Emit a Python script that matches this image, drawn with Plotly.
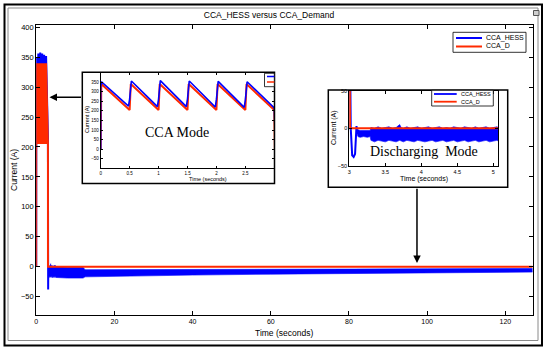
import plotly.graph_objects as go

# ---------------- data ----------------
series_names = ["CCA_HESS", "CCA_D"]

# CCA_HESS current: sawtooth during CCA mode, then discharge transient
hess_t = [0.0, 0.0, 0.02, 0.48, 0.50, 0.53, 0.98, 1.00, 1.03, 1.48, 1.50, 1.53,
          1.98, 2.00, 2.03, 2.48, 2.50, 2.53, 3.00, 3.02, 3.04, 3.06, 3.08, 3.09, 3.10]
hess_v = [0, 330, 350, 225, 262, 356, 222, 262, 358, 222, 262, 356,
          220, 260, 354, 218, 258, 352, 215, 0, -36, -38, -34, -8, 3]

# CCA_D (demand) current
dem_t = [0.0, 0.01, 0.50, 0.52, 1.00, 1.02, 1.50, 1.52, 2.00, 2.02, 2.50, 2.52,
         3.00, 3.01, 127.0]
dem_v = [0, 340, 205, 340, 205, 340, 205, 340, 205, 340, 205, 340,
         205, 0, 0]

# CCA_HESS ripple band during discharging mode (upper / lower envelope)
band_t = [3.10, 3.12, 3.15, 3.20, 3.25, 3.29, 3.30, 3.35, 3.40, 3.45, 3.50, 3.55,
          3.60, 3.65, 3.70, 3.72, 3.75, 3.80, 3.85, 3.90, 3.95, 4.00, 4.05, 4.10,
          4.15, 4.20, 4.25, 4.30, 4.35, 4.40, 4.45, 4.50, 4.55, 4.60, 4.65, 4.70,
          4.75, 4.80, 4.85, 4.90, 4.95, 5.00, 5.05, 5.10, 8.0, 12.0, 12.5, 20.0,
          40.0, 60.0, 80.0, 100.0, 127.0]
band_hi = [3, -2, -3, -3, -2, -3, 1, 0, 2, 0, 1, 2,
           0, 1, 5, 1, 0, 2, 0, 1, 2, 0, 1, 2,
           0, 1, 2, 0, 1, 0, 2, 1, 0, 2, 1, 0,
           2, 0, 1, 2, 0, 1, 2, 0, -1, -1, -5, -5,
           -4.5, -4, -4, -3.5, -3]
band_lo = [-5, -11, -12, -11, -12, -11, -16, -18, -16, -17, -18, -16,
           -17, -18, -16, -17, -18, -16, -17, -18, -16, -17, -18, -17,
           -16, -18, -17, -16, -18, -17, -16, -18, -17, -16, -18, -17,
           -16, -18, -17, -16, -18, -17, -16, -18, -19, -19, -17, -16,
           -14, -12.5, -11.5, -10.5, -9]

# axis ticks and titles
main_xticks = [0, 20, 40, 60, 80, 100, 120]
main_yticks = [-50, 0, 50, 100, 150, 200, 250, 300, 350, 400]
in1_xticks = [0, 0.5, 1, 1.5, 2, 2.5]
in1_yticks = [-50, 0, 50, 100, 150, 200, 250, 300, 350]
in2_xticks = [3, 3.5, 4, 4.5, 5]
in2_yticks = [-50, 0, 50]
x_title = "Time (seconds)"
y_title = "Current (A)"

# ---------------- figure ----------------
W, H = 550, 351
BLUE = "#0000ff"
RED = "#ff2a00"
FONT = "Liberation Sans, Arial, sans-serif"
SERIF = "Liberation Serif, Times New Roman, serif"
colors = [BLUE, RED]


def px(x):
    return x / W


def py(y):
    return 1 - y / H


fig = go.Figure()

subplots = [("x", "y"), ("x2", "y2"), ("x3", "y3")]
for i, (xa, ya) in enumerate(subplots):
    # ripple band
    fig.add_trace(go.Scatter(x=band_t, y=band_lo, xaxis=xa, yaxis=ya, mode="lines",
                             line=dict(color=BLUE, width=0.6), hoverinfo="skip"))
    fig.add_trace(go.Scatter(x=band_t, y=band_hi, xaxis=xa, yaxis=ya, mode="lines",
                             fill="tonexty", fillcolor=BLUE,
                             line=dict(color=BLUE, width=0.6), hoverinfo="skip"))
    if i == 1:
        # inset 1: demand below, HESS on top
        fig.add_trace(go.Scatter(x=dem_t, y=dem_v, xaxis=xa, yaxis=ya, mode="lines",
                                 name=series_names[1], line=dict(color=RED, width=2)))
        fig.add_trace(go.Scatter(x=hess_t, y=hess_v, xaxis=xa, yaxis=ya, mode="lines",
                                 name=series_names[0], line=dict(color=BLUE, width=1.6)))
    else:
        fig.add_trace(go.Scatter(x=hess_t, y=hess_v, xaxis=xa, yaxis=ya, mode="lines",
                                 name=series_names[0], line=dict(color=BLUE, width=2)))
        fig.add_trace(go.Scatter(x=dem_t, y=dem_v, xaxis=xa, yaxis=ya, mode="lines",
                                 name=series_names[1], line=dict(color=RED, width=2)))

axis_common = dict(showline=True, linecolor="black", linewidth=1, mirror="ticks",
                   ticks="inside", tickcolor="black", showgrid=False, zeroline=False,
                   color="black", automargin=False)

fig.update_layout(
    width=W, height=H, autosize=False,
    margin=dict(l=0, r=0, t=0, b=0, pad=0),
    paper_bgcolor="white", plot_bgcolor="white",
    font=dict(family=FONT, color="black"),
    showlegend=False,
    title=dict(text="CCA_HESS versus CCA_Demand", x=px(269), y=py(15),
               xanchor="center", yanchor="middle",
               font=dict(size=8.5, family=FONT, color="black")),
    xaxis=dict(domain=[px(36.2), px(532.7)], range=[0, 127], tickvals=main_xticks,
               ticklen=4, tickfont=dict(size=7), **axis_common),
    yaxis=dict(domain=[py(315), py(25)], range=[-80.7, 403.8], tickvals=main_yticks,
               ticklen=4, tickfont=dict(size=7.5), **axis_common),
    xaxis2=dict(domain=[px(100.7), px(274.3)], range=[0, 3], tickvals=in1_xticks,
                anchor="y2", ticklen=2, tickfont=dict(size=4.5), **axis_common),
    yaxis2=dict(domain=[py(168.3), py(72.6)], range=[-100, 400], tickvals=in1_yticks,
                anchor="x2", ticklen=2, tickfont=dict(size=4.5), **axis_common),
    xaxis3=dict(domain=[px(349.3), px(498.3)], range=[3, 5.07], tickvals=in2_xticks,
                anchor="y3", ticklen=3, tickfont=dict(size=5.5), **axis_common),
    yaxis3=dict(domain=[py(166), py(90.6)], range=[-50, 50], tickvals=in2_yticks,
                anchor="x3", ticklen=3, tickfont=dict(size=5.5), **axis_common),
)


def legend_box(x0, x1, y0, y1, line_x0, line_x1, rows_y, font_size, lw):
    """Legend frame, sample lines and labels (MATLAB style legend)."""
    shp = [dict(type="rect", xref="paper", yref="paper", x0=px(x0), x1=px(x1),
                y0=py(y1), y1=py(y0), line=dict(color="black", width=0.8),
                fillcolor="white", layer="above")]
    ann = []
    for name, col, ry in zip(series_names, colors, rows_y):
        shp.append(dict(type="line", xref="paper", yref="paper", x0=px(line_x0),
                        x1=px(line_x1), y0=py(ry), y1=py(ry),
                        line=dict(color=col, width=lw), layer="above"))
        ann.append(dict(text=name, xref="paper", yref="paper", x=px(line_x1 + 2),
                        y=py(ry), xanchor="left", yanchor="middle", showarrow=False,
                        font=dict(size=font_size, family=FONT, color="black")))
    return shp, ann


def axis_titles(xc, xy, yx, yc, size):
    return [
        dict(text=x_title, xref="paper", yref="paper", x=px(xc), y=py(xy),
             xanchor="center", yanchor="middle", showarrow=False,
             font=dict(size=size, family=FONT, color="black")),
        dict(text=y_title, xref="paper", yref="paper", x=px(yx), y=py(yc),
             xanchor="center", yanchor="middle", showarrow=False, textangle=-90,
             font=dict(size=size, family=FONT, color="black")),
    ]


# figure frame and inset boxes
shapes = [
    dict(type="rect", xref="paper", yref="paper", x0=px(4.5), x1=px(542), y0=py(345.5),
         y1=py(4.5), line=dict(color="black", width=2)),
    dict(type="rect", xref="paper", yref="paper", x0=px(8), x1=px(538), y0=py(340.5),
         y1=py(8), line=dict(color="#8a8a8a", width=1)),
    dict(type="rect", xref="paper", yref="paper", x0=px(82.3), x1=px(274.5), y0=py(183.5),
         y1=py(72.3), line=dict(color="black", width=1.5)),
    dict(type="rect", xref="paper", yref="paper", x0=px(328.3), x1=px(507.7), y0=py(187.3),
         y1=py(90), line=dict(color="black", width=1.5)),
    # cropped legend of inset 1
    dict(type="rect", xref="paper", yref="paper", x0=px(264.5), x1=px(274.3), y0=py(86.7),
         y1=py(73.3), line=dict(color="black", width=0.8), fillcolor="white"),
    dict(type="line", xref="paper", yref="paper", x0=px(267), x1=px(274.3), y0=py(76.5),
         y1=py(76.5), line=dict(color=BLUE, width=1.5)),
    dict(type="line", xref="paper", yref="paper", x0=px(267), x1=px(274.3), y0=py(82),
         y1=py(82), line=dict(color=RED, width=1.5)),
    # small window icon at top right of the figure
    dict(type="rect", xref="paper", yref="paper", x0=px(533.5), x1=px(539), y0=py(15.5),
         y1=py(10.5), line=dict(color="#555555", width=1), fillcolor="#cfcfcf"),
]

annotations = [
    dict(text="CCA Mode", xref="paper", yref="paper", x=px(177), y=py(132),
         xanchor="center", yanchor="middle", showarrow=False,
         font=dict(family=SERIF, size=14, color="black")),
    dict(text="Discharging  Mode", xref="paper", yref="paper", x=px(424), y=py(152),
         xanchor="center", yanchor="middle", showarrow=False,
         font=dict(family=SERIF, size=14, color="black")),
    # arrow from CCA inset to CCA region
    dict(text="", x=3.4, y=283, xref="x", yref="y", ax=11.84, ay=283, axref="x",
         ayref="y", showarrow=True, arrowhead=2, arrowsize=1, arrowwidth=1.5,
         arrowcolor="black"),
    # arrow from discharging inset to discharging region
    dict(text="", x=97.4, y=6, xref="x", yref="y", ax=97.4, ay=132.7, axref="x",
         ayref="y", showarrow=True, arrowhead=2, arrowsize=1, arrowwidth=1.5,
         arrowcolor="black"),
]
annotations += axis_titles(284, 333, 14, 170, 8.5)
annotations += axis_titles(208, 178.5, 87, 120, 5.5)
annotations += axis_titles(424, 179, 334, 128, 7)

s1, a1 = legend_box(453, 526, 32.3, 52.3, 456, 482, [38, 46.5], 7, 2)
s2, a2 = legend_box(431.7, 493.3, 90.3, 106, 434, 456.7, [94, 101.7], 5.5, 1.8)
shapes += s1 + s2
annotations += a1 + a2

fig.update_layout(shapes=shapes, annotations=annotations)

# remove the browser's default page margin so the figure sits at the window origin
fig.write_html("out.html", config={"displayModeBar": False},
               post_script="document.body.style.margin='0';"
                           "document.body.style.overflow='hidden';")
